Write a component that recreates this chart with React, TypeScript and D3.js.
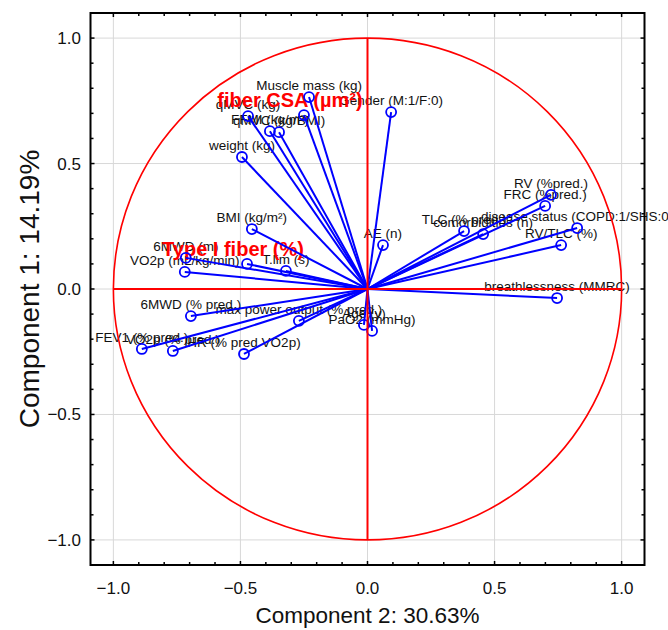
import React, { useEffect, useRef } from "react";
import * as d3 from "d3";

// variable names and loadings
const variables = [
  "Gender (M:1/F:0)", "Muscle mass (kg)", "qMVC (kg)", "FFMI (kg/m²)", "qMVC (kg/BMI)",
  "fiber CSA (µm²)", "weight (kg)", "BMI (kg/m²)", "AE (n)", "6MWD (m)",
  "VO2p (mL/kg/min)", "Type I fiber (%)", "T.lim (s)", "6MWD (% pred.)", "max power output (% pred.)",
  "Age (y)", "PaO2 (mmHg)", "FEV1 (% pred.)", "VO2p (% pred.)", "HR (% pred VO2p)",
  "TLC (% pred.)", "comorbidities (n)", "disease status (COPD:1/SHS:0)", "RV (%pred.)", "FRC (%pred.)",
  "RV/TLC (%)", "breathlessness (MMRC)",
];
const comp2 = [
  0.093, -0.230, -0.470, -0.384, -0.348,
  -0.250, -0.494, -0.455, 0.061, -0.715,
  -0.719, -0.474, -0.321, -0.695, -0.270,
  -0.014, 0.018, -0.888, -0.766, -0.486,
  0.380, 0.455, 0.825, 0.722, 0.699,
  0.762, 0.746,
];
const comp1 = [
  0.705, 0.765, 0.689, 0.629, 0.625,
  0.693, 0.526, 0.239, 0.175, 0.124,
  0.068, 0.100, 0.072, -0.108, -0.127,
  -0.143, -0.167, -0.239, -0.247, -0.259,
  0.231, 0.219, 0.243, 0.375, 0.331,
  0.175, -0.036,
];
const highlighted = ["fiber CSA (µm²)", "Type I fiber (%)"];
const majorTicks = [-1, -0.5, 0, 0.5, 1];

const W = 668, H = 630;
const font = "'Liberation Sans', Arial, sans-serif";

const App = () => {
  const ref = useRef<SVGSVGElement>(null);

  useEffect(() => {
    const svg = d3.select(ref.current);
    svg.selectAll("*").remove();

    const x = d3.scaleLinear().domain([-1.09, 1.09]).range([90.5, 644.5]);
    const y = d3.scaleLinear().domain([-1.1, 1.1]).range([565, 13]);
    const minor = d3.range(-10, 11).map(i => i / 10);
    const data = variables.map((name, i) => ({ name, px: comp2[i], py: comp1[i] }));

    // grid
    const grid = svg.append("g").attr("stroke", "#d8d8d8").attr("stroke-width", 1);
    majorTicks.forEach(t => {
      grid.append("line").attr("x1", x(t)).attr("x2", x(t)).attr("y1", y(1.1)).attr("y2", y(-1.1));
      grid.append("line").attr("x1", x(-1.09)).attr("x2", x(1.09)).attr("y1", y(t)).attr("y2", y(t));
    });

    // variable labels
    svg.append("g")
      .selectAll("text")
      .data(data.filter(d => !highlighted.includes(d.name)))
      .enter()
      .append("text")
      .attr("x", d => x(d.px))
      .attr("y", d => y(d.py) - 7)
      .attr("text-anchor", "middle")
      .attr("font-family", font)
      .attr("font-size", 13.5)
      .attr("fill", "#111")
      .text(d => d.name);

    svg.append("g")
      .selectAll("text")
      .data(data.filter(d => highlighted.includes(d.name)))
      .enter()
      .append("text")
      .attr("x", d => x(d.px) - 14)
      .attr("y", d => y(d.py) - 8)
      .attr("text-anchor", "middle")
      .attr("font-family", font)
      .attr("font-size", 20)
      .attr("font-weight", "bold")
      .attr("fill", "#ff0000")
      .text(d => d.name);

    // loading vectors
    svg.append("g")
      .selectAll("line")
      .data(data)
      .enter()
      .append("line")
      .attr("x1", x(0)).attr("y1", y(0))
      .attr("x2", d => x(d.px)).attr("y2", d => y(d.py))
      .attr("stroke", "#0000ff")
      .attr("stroke-width", 2);

    svg.append("g")
      .selectAll("circle")
      .data(data)
      .enter()
      .append("circle")
      .attr("cx", d => x(d.px))
      .attr("cy", d => y(d.py))
      .attr("r", 5)
      .attr("fill", "none")
      .attr("stroke", "#0000ff")
      .attr("stroke-width", 1.8);

    // unit circle and axes
    const red = svg.append("g").attr("stroke", "#ff0000").attr("fill", "none");
    red.append("ellipse")
      .attr("cx", x(0)).attr("cy", y(0))
      .attr("rx", x(1) - x(0)).attr("ry", y(0) - y(1))
      .attr("stroke-width", 1.6);
    red.append("line").attr("x1", x(-1)).attr("x2", x(1)).attr("y1", y(0)).attr("y2", y(0)).attr("stroke-width", 2);
    red.append("line").attr("x1", x(0)).attr("x2", x(0)).attr("y1", y(-1)).attr("y2", y(1)).attr("stroke-width", 2);

    // frame + inward ticks
    svg.append("rect")
      .attr("x", x(-1.09)).attr("y", y(1.1))
      .attr("width", x(1.09) - x(-1.09)).attr("height", y(-1.1) - y(1.1))
      .attr("fill", "none").attr("stroke", "#000").attr("stroke-width", 2);

    const ticks = svg.append("g").attr("stroke", "#000").attr("stroke-width", 1.5);
    minor.forEach(t => {
      const len = majorTicks.includes(t) ? 4 : 3;
      ticks.append("line").attr("x1", x(t)).attr("x2", x(t)).attr("y1", y(-1.1)).attr("y2", y(-1.1) - len);
      ticks.append("line").attr("x1", x(t)).attr("x2", x(t)).attr("y1", y(1.1)).attr("y2", y(1.1) + len);
      ticks.append("line").attr("x1", x(-1.09)).attr("x2", x(-1.09) + len).attr("y1", y(t)).attr("y2", y(t));
      ticks.append("line").attr("x1", x(1.09)).attr("x2", x(1.09) - len).attr("y1", y(t)).attr("y2", y(t));
    });

    const fmt = d3.format(".1f");
    svg.append("g")
      .selectAll("text")
      .data(majorTicks)
      .enter()
      .append("text")
      .attr("x", d => x(d))
      .attr("y", 594)
      .attr("text-anchor", "middle")
      .attr("font-family", font)
      .attr("font-size", 17)
      .attr("fill", "#111")
      .text(d => fmt(d));

    svg.append("g")
      .selectAll("text")
      .data(majorTicks)
      .enter()
      .append("text")
      .attr("x", 81)
      .attr("y", d => y(d) + 6)
      .attr("text-anchor", "end")
      .attr("font-family", font)
      .attr("font-size", 17)
      .attr("fill", "#111")
      .text(d => fmt(d));

    svg.append("text")
      .attr("x", x(0))
      .attr("y", 623)
      .attr("text-anchor", "middle")
      .attr("font-family", font)
      .attr("font-size", 22.5)
      .attr("fill", "#111")
      .text("Component 2: 30.63%");

    svg.append("text")
      .attr("transform", `translate(39,${y(0)}) rotate(-90)`)
      .attr("text-anchor", "middle")
      .attr("font-family", font)
      .attr("font-size", 28)
      .attr("fill", "#111")
      .text("Component 1: 14.19%");
  }, []);

  return (
    <div style={{ position: "absolute", left: 0, top: 0 }}>
      <svg ref={ref} width={W} height={H} style={{ display: "block", background: "#fff" }} />
    </div>
  );
};

export default App;
